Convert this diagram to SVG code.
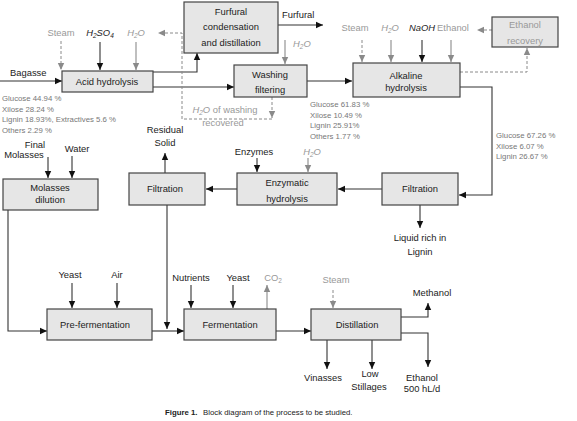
<svg xmlns="http://www.w3.org/2000/svg" width="577" height="421" viewBox="0 0 577 421">
<defs>
<marker id="ab" markerUnits="userSpaceOnUse" markerWidth="8" markerHeight="8" refX="7" refY="4" orient="auto"><path d="M0,0.8 L7,4 L0,7.2 Z" fill="#111"/></marker>
<marker id="ag" markerUnits="userSpaceOnUse" markerWidth="8" markerHeight="8" refX="7" refY="4" orient="auto"><path d="M0,0.8 L7,4 L0,7.2 Z" fill="#8a8a8a"/></marker>
</defs>
<style>
text{font-family:"Liberation Sans",Arial,sans-serif;font-size:9.4px;fill:#222}
.c{text-anchor:middle}
.g{fill:#999}
.s{font-size:7.8px;fill:#777}
.i{font-style:italic}
.box{fill:#e6e6e6;stroke:#444;stroke-width:1.2}
.l{fill:none;stroke:#333;stroke-width:1.1;marker-end:url(#ab)}
.lg{fill:none;stroke:#8a8a8a;stroke-width:1.1;marker-end:url(#ag)}
.ld{fill:none;stroke:#8a8a8a;stroke-width:1;stroke-dasharray:3,2;marker-end:url(#ag)}
.cap{font-size:7.8px}
</style>

<g id="connectors">
<path class="l" d="M0,81 H62"/>
<path class="ld" d="M61,41 V70"/>
<path class="l" d="M100,42 V70"/>
<path class="lg" d="M136,42 V70"/>
<path class="l" d="M153,72 H197 V53"/>
<path class="l" d="M153,87 H234"/>
<path class="l" d="M278,25 H323"/>
<path class="lg" d="M285,40 V64"/>
<path class="l" d="M307,81 H352"/>
<path class="ld" d="M362,40 V62"/>
<path class="lg" d="M391,40 V62"/>
<path class="l" d="M422,40 V62"/>
<path class="lg" d="M451,40 V62"/>
<path class="ld" d="M492,30 H477"/>
<path class="ld" d="M460,72 H527 V48"/>
<path class="ld" d="M272,97 V118"/>
<path class="ld" d="M272,119 H182 V33 H158"/>
<path class="l" d="M460,87 H492 V195 H459"/>
<path class="l" d="M382,189 H338"/>
<path class="l" d="M237,189 H206"/>
<path class="l" d="M420,205 V228"/>
<path class="l" d="M257,158 V172"/>
<path class="lg" d="M308,158 V172"/>
<path class="l" d="M165,173 V153"/>
<path class="l" d="M167,205 V329"/>
<path class="l" d="M48,157 V178"/>
<path class="l" d="M72,156 V178"/>
<path class="l" d="M8,210 V331 H47"/>
<path class="l" d="M72,283 V308"/>
<path class="l" d="M117,283 V308"/>
<path class="l" d="M152,331 H184"/>
<path class="l" d="M191,285 V308"/>
<path class="l" d="M233,285 V308"/>
<path class="lg" d="M267,309 V285"/>
<path class="ld" d="M333,290 V308"/>
<path class="l" d="M276,331 H311"/>
<path class="l" d="M401,317 H428 V303"/>
<path class="l" d="M401,333 H428 V367"/>
<path class="l" d="M327,340 V369"/>
<path class="l" d="M372,340 V369"/>
</g>

<g id="acid-hydrolysis">
<rect class="box" x="62" y="71" width="91" height="21"/>
<text class="c" x="107" y="85">Acid hydrolysis</text>
</g>
<g id="furfural">
<rect class="box" x="184" y="2" width="94" height="51"/>
<text class="c" x="231" y="15">Furfural</text>
<text class="c" x="231" y="30">condensation</text>
<text class="c" x="231" y="46">and distillation</text>
</g>
<g id="washing">
<rect class="box" x="234" y="65" width="73" height="32"/>
<text class="c" x="270" y="78">Washing</text>
<text class="c" x="270" y="93">filtering</text>
</g>
<g id="alkaline">
<rect class="box" x="353" y="63" width="107" height="34"/>
<text class="c" x="406" y="79">Alkaline</text>
<text class="c" x="406" y="91">hydrolysis</text>
</g>
<g id="ethanol-recovery">
<rect class="box" x="492" y="17" width="66" height="30"/>
<text class="c g" x="525" y="28">Ethanol</text>
<text class="c g" x="525" y="44">recovery</text>
</g>
<g id="filtration-right">
<rect class="box" x="382" y="173" width="76" height="32"/>
<text class="c" x="420" y="192">Filtration</text>
</g>
<g id="enzymatic">
<rect class="box" x="237" y="173" width="100" height="32"/>
<text class="c" x="287" y="186">Enzymatic</text>
<text class="c" x="287" y="202">hydrolysis</text>
</g>
<g id="filtration-left">
<rect class="box" x="129" y="173" width="76" height="32"/>
<text class="c" x="165" y="192">Filtration</text>
</g>
<g id="molasses-dilution">
<rect class="box" x="3" y="179" width="95" height="31"/>
<text class="c" x="50" y="191">Molasses</text>
<text class="c" x="50" y="203">dilution</text>
</g>
<g id="pre-fermentation">
<rect class="box" x="47" y="309" width="105" height="31"/>
<text class="c" x="95" y="328">Pre-fermentation</text>
</g>
<g id="fermentation">
<rect class="box" x="184" y="309" width="92" height="31"/>
<text class="c" x="230" y="328">Fermentation</text>
</g>
<g id="distillation">
<rect class="box" x="311" y="309" width="90" height="31"/>
<text class="c" x="357" y="328">Distillation</text>
</g>

<g id="labels">
<text class="c g" x="61" y="36">Steam</text>
<text class="c i" x="100" y="36">H<tspan font-size="6.5" dy="2">2</tspan><tspan dy="-2">SO</tspan><tspan font-size="6.5" dy="2">4</tspan></text>
<text class="c g i" x="136" y="36">H<tspan font-size="6.5" dy="2">2</tspan><tspan dy="-2">O</tspan></text>
<text x="10" y="76">Bagasse</text>
<text class="s" x="2" y="101">Glucose 44.94 %</text>
<text class="s" x="2" y="112">Xilose 28.24 %</text>
<text class="s" x="2" y="122">Lignin 18.93%, Extractives 5.6 %</text>
<text class="s" x="2" y="133">Others 2.29 %</text>
<text x="282" y="18">Furfural</text>
<text class="g i" x="293" y="47">H<tspan font-size="6.5" dy="2">2</tspan><tspan dy="-2">O</tspan></text>
<text class="c g i" x="225" y="113">H<tspan font-size="6.5" dy="2">2</tspan><tspan dy="-2">O</tspan><tspan font-style="normal"> of washing</tspan></text>
<text class="c g" x="223" y="126">recovered</text>
<text class="s" x="310" y="107">Glucose 61.83 %</text>
<text class="s" x="310" y="117.5">Xilose 10.49 %</text>
<text class="s" x="310" y="128">Lignin  25.91%</text>
<text class="s" x="310" y="138.5">Others 1.77 %</text>
<text class="c g" x="355" y="31">Steam</text>
<text class="c g i" x="390" y="31">H<tspan font-size="6.5" dy="2">2</tspan><tspan dy="-2">O</tspan></text>
<text class="c i" x="422" y="31">NaOH</text>
<text class="c g" x="453" y="31">Ethanol</text>
<text class="s" x="496" y="138">Glucose 67.26 %</text>
<text class="s" x="496" y="148.5">Xilose 6.07 %</text>
<text class="s" x="496" y="159">Lignin 26.67 %</text>
<text class="c" x="420" y="241">Liquid rich in</text>
<text class="c" x="420" y="255">Lignin</text>
<text class="c" x="254" y="155">Enzymes</text>
<text class="c g i" x="312" y="155">H<tspan font-size="6.5" dy="2">2</tspan><tspan dy="-2">O</tspan></text>
<text class="c" x="165" y="133">Residual</text>
<text class="c" x="165" y="146">Solid</text>
<text class="c" x="35" y="148">Final</text>
<text class="c" x="24" y="158">Molasses</text>
<text class="c" x="77" y="152">Water</text>
<text class="c" x="70" y="278">Yeast</text>
<text class="c" x="117" y="278">Air</text>
<text class="c" x="191" y="281">Nutrients</text>
<text class="c" x="238" y="281">Yeast</text>
<text class="c g" x="273" y="281">CO<tspan font-size="6.5" dy="2">2</tspan></text>
<text class="c g" x="336" y="283">Steam</text>
<text class="c" x="432" y="296">Methanol</text>
<text class="c" x="323" y="381">Vinasses</text>
<text class="c" x="370" y="377">Low</text>
<text class="c" x="369" y="390">Stillages</text>
<text class="c" x="422" y="381">Ethanol</text>
<text class="c" x="422" y="392">500 hL/d</text>
<text class="cap" x="165" y="415" font-weight="bold">Figure 1.</text>
<text class="cap" x="203" y="415">Block diagram of the process to be studied.</text>
</g>
</svg>
